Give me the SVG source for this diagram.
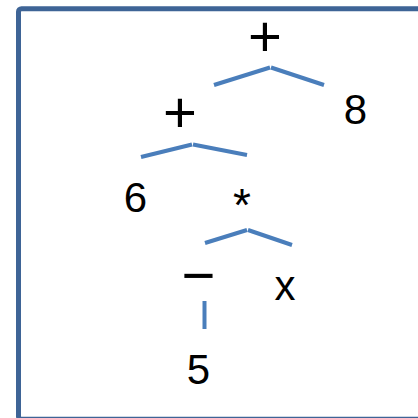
<svg xmlns="http://www.w3.org/2000/svg" width="418" height="418" viewBox="0 0 418 418">
<style>
.t{font-family:"Liberation Sans",Arial,sans-serif;font-size:42px;fill:#000;text-anchor:middle}
.op{font-size:58px}
.e{stroke:#4A7EBB;stroke-width:4;fill:none;stroke-linecap:butt}
</style>
<rect x="0" y="0" width="418" height="418" fill="#fff"/>
<rect x="18.5" y="8.7" width="440" height="410.5" rx="3" fill="none" stroke="#3E6496" stroke-width="5"/>
<g id="connectors">
<line class="e" x1="214" y1="85" x2="270" y2="67.5"/>
<line class="e" x1="271" y1="67.5" x2="324" y2="85"/>
<line class="e" x1="141" y1="157" x2="192" y2="144.5"/>
<line class="e" x1="193" y1="144.5" x2="247" y2="155"/>
<line class="e" x1="205" y1="243" x2="247" y2="230"/>
<line class="e" x1="248" y1="230" x2="292" y2="245"/>
<line class="e" x1="204.5" y1="301" x2="204.5" y2="329"/>
</g>
<g id="n-plus1"><text class="t op" x="265" y="55.5">+</text></g>
<g id="n-plus2"><text class="t op" x="180" y="131.5">+</text></g>
<g id="n-8"><text class="t" x="355.5" y="124">8</text></g>
<g id="n-6"><text class="t" x="135.5" y="212">6</text></g>
<g id="n-mul"><text class="t" x="242" y="221" style="font-size:46px">*</text></g>
<g id="n-minus"><text class="t op" x="198.5" y="294.5">−</text></g>
<g id="n-x"><text class="t" x="285" y="300">x</text></g>
<g id="n-5"><text class="t" x="198.5" y="384">5</text></g>
</svg>
